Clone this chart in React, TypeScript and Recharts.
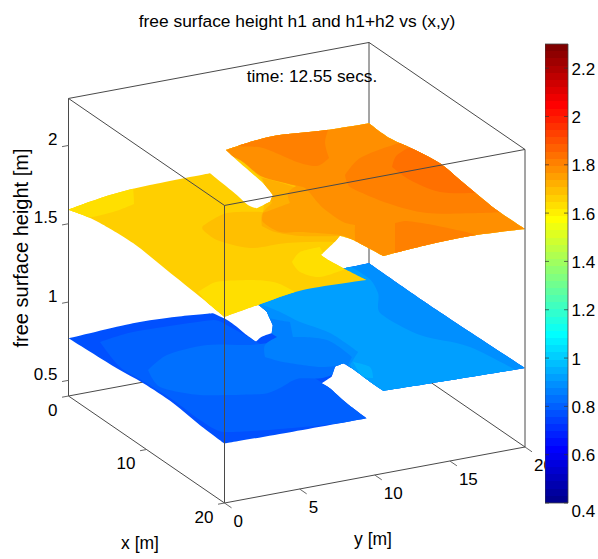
import React from 'react';
import { BarChart, Bar, Scatter, ScatterChart, XAxis, YAxis } from 'recharts';

type P3 = number[];

// outline of the h1+h2 surface, x, y, height
const upperOutline: P3[] = [
  [0, 0, 1.59], [0, 2.76, 1.634], [0, 5.42, 1.65], [0, 9.42, 1.654],
  [3.25, 9.26, 1.65], [5.61, 9.03, 1.65], [6.34, 9.24, 1.65], [6.89, 9.84, 1.7],
  [7.82, 9.55, 1.78], [5.78, 9.94, 1.78], [2.21, 10.27, 1.78], [0, 10.48, 1.784],
  [0, 13.41, 1.816], [0, 17.18, 1.791], [0, 20, 1.784],
  [2.69, 20, 1.78], [6.12, 20, 1.818], [9.1, 20, 1.839], [11.67, 20, 1.82],
  [13.97, 20, 1.803], [16.37, 20, 1.789], [20, 20, 1.792],
  [20, 16.34, 1.813], [20, 13.46, 1.807], [20, 10.57, 1.788],
  [16.63, 10.32, 1.78], [15.64, 9.95, 1.78], [14.27, 10.22, 1.68], [15.65, 8.68, 1.68],
  [16.59, 8.68, 1.68], [18.56, 8.88, 1.68], [20, 9.46, 1.655],
  [20, 5.22, 1.667], [20, 2.23, 1.625], [20, 0, 1.588],
  [16.86, 0, 1.61], [12.59, 0, 1.635], [8.27, 0, 1.659], [4.04, 0, 1.643], [1.86, 0, 1.619],
];

// outline of the h1 surface
const lowerOutline: P3[] = [
  [0, 0, 0.768], [0, 4.29, 0.788], [0, 7.2, 0.777], [0, 9.62, 0.756],
  [2.01, 9.7, 0.77], [4.43, 9.56, 0.77], [5.66, 9.54, 0.77], [6.25, 9.62, 0.82],
  [6.48, 10.16, 0.84], [5.98, 10.49, 0.87], [3.86, 11.19, 0.87], [2.64, 11.26, 0.87],
  [0, 11, 0.87], [0, 18.4, 0.887], [0, 20, 0.89],
  [8.68, 20, 0.888], [20, 20, 0.904], [20, 13.75, 0.919], [20, 10.57, 0.928],
  [18.12, 10.66, 0.92], [15.84, 10.73, 0.92], [14.69, 10.67, 0.92],
  [13.12, 10.93, 0.84], [14.5, 9.99, 0.84], [15.2, 8.96, 0.84],
  [15.23, 9.5, 0.8], [17.9, 9.23, 0.8], [20, 9.46, 0.772],
  [20, 4.56, 0.774], [20, 0, 0.78], [16.86, 0, 0.79], [13.44, 0, 0.813], [9.59, 0, 0.809], [6.18, 0, 0.788],
];

// constant height bands, [x, y]; the outline clips them
const upper1662 = 1.662;
const upperBands: { h: number; pts: number[][] }[] = [
  { h: 1.602, pts: [[0.09, -0.61], [-0.56, 1.72], [1.78, 0.11]] },
  { h: 1.632, pts: [[1.08, -1.12], [-0.89, 4.76], [1.93, 3.36], [2.53, 1.65], [2.59, -0.38]] },
  { h: 1.632, pts: [[16.61, -0.01], [15.7, 1.47], [15.71, 2.19], [16.36, 3.79], [17.46, 4.82], [19.27, 5.07], [21.01, 1.97], [21.74, -0.93]] },
  { h: 1.632, pts: [[14.78, 7.2], [13.53, 8.39], [13.34, 9.81], [14.65, 9.47], [17.2, 9.68], [17.75, 7.52], [16.47, 6.86]] },
  { h: 1.692, pts: [[8.43, 4.57], [7.18, 6.82], [8.02, 8.78], [3.29, 11.17], [-3.88, 11.77], [-5.24, 23.45], [13.84, 24.2], [22.66, 19.62], [19.75, 10.48], [15.85, 10.18], [14.34, 10.16], [13.23, 7.67], [12.95, 5.36], [10.87, 4.24], [9.02, 4.27]] },
  { h: 1.721, pts: [[10.72, 7.31], [8.96, 8.23], [7.62, 9.59], [3.67, 10.98], [6.47, 12.05], [10.7, 11.19], [14.47, 10.89], [13.24, 8.54], [11.96, 7.53]] },
  { h: 1.751, pts: [[10.85, 7.31], [9.53, 8.0], [8.8, 10.17], [7.28, 10.83], [6.47, 11.79], [4.07, 10.77], [3.54, 11.91], [7.71, 12.74], [14.23, 12.68], [17.17, 11.16], [15.97, 10.65], [14.87, 10.35], [13.34, 8.48], [12.79, 7.44]] },
  { h: 1.781, pts: [[1.8, 10.48], [4.93, 10.39], [7.5, 11.72], [8.57, 11.62], [11.13, 11.16], [13.74, 11.14], [14.51, 11.54], [16.12, 10.7], [18.56, 9.64], [22.35, 10.46], [21.78, 20.08], [14.43, 23.89], [-3.18, 22.39], [-3.62, 12.63], [-0.35, 9.93]] },
  { h: 1.81, pts: [[0.18, 11.12], [1.33, 12.26], [4.32, 12.97], [5.45, 13.71], [4.61, 14.95], [2.15, 15.96], [-0.22, 17.52], [-2.51, 12.06]] },
  { h: 1.81, pts: [[7.54, 14.49], [5.46, 16.57], [4.45, 19.29], [4.45, 21.08], [7.34, 21.25], [13.58, 20.67], [17.37, 20.04], [16.83, 18.65], [15.38, 15.88], [12.81, 14.55], [9.44, 13.83]] },
  { h: 1.81, pts: [[15.97, 13.44], [16.0, 14.22], [17.3, 15.28], [19.49, 16.6], [20.93, 16.86], [22.14, 10.24]] },
  { h: 1.84, pts: [[8.35, 17.2], [6.72, 18.38], [5.88, 20.34], [8.91, 20.77], [15.15, 20.19], [14.5, 19.66], [13.34, 17.8], [10.75, 17.15]] },
];

const lower771 = 0.771;
const lowerBands: { h: number; pts: number[][] }[] = [
  { h: 0.8, pts: [[2.13, 0.99], [1.56, 3.48], [1.99, 8.59], [3.68, 8.97], [7.01, 9.24], [15.19, 9.52], [20.99, 9.17], [20.05, 4.53], [18.75, 0.61], [16.33, 0.27], [12.65, 0.39], [9.04, 0.27], [6.35, 0.13]] },
  { h: 0.83, pts: [[8.25, 1.01], [6.56, 3.15], [6.19, 6.0], [7.37, 8.26], [8.0, 11.25], [10.57, 12.58], [13.64, 11.32], [14.19, 9.51], [13.65, 8.12], [14.51, 6.54], [14.93, 5.2], [13.35, 1.82], [11.08, 0.34]] },
  { h: 0.86, pts: [[1.07, 12.06], [3.98, 10.81], [6.35, 9.98], [7.62, 9.92], [8.47, 8.68], [10.23, 7.77], [11.46, 8.33], [13.21, 9.88], [13.52, 11.19], [18.15, 9.32], [20.87, 19.88], [17.93, 21.41], [-1.91, 20.99], [-0.13, 15.47]] },
  { h: 0.89, pts: [[1.68, 11.54], [4.67, 10.46], [6.46, 11.39], [8.75, 10.4], [10.12, 11.95], [13.31, 11.96], [14.37, 11.14], [20.09, 10.64], [21.56, 19.52], [18.62, 21.05], [-1.22, 20.64], [-0.17, 15.5]] },
  { h: 0.92, pts: [[3.49, 10.8], [5.41, 11.27], [7.43, 11.55], [9.87, 12.28], [13.43, 12.3], [15.12, 10.89], [20.78, 10.28], [21.96, 19.32], [15.76, 18.54], [12.63, 16.84], [8.3, 16.43], [5.3, 17.85], [2.65, 18.49], [-0.57, 17.7]] },
  { h: 0.95, pts: [[15.45, 10.92], [16.65, 11.42], [18.35, 10.74], [17.76, 10.32]] },
];

const xTicks = [0, 10, 20];
const yTicks = [0, 5, 10, 15, 20];
const zTicks = [0.5, 1, 1.5, 2];
const colorTicks = [0.4, 0.6, 0.8, 1, 1.2, 1.4, 1.6, 1.8, 2, 2.2];
const zMin = 0.4;
const zMax = 2.3;

const project = ([x, y, z]: P3) => ({
  sx: 68.5 + 7.8 * x + 15.025 * y,
  sy: 396 + 5.35 * x - 2.8 * y - (z - zMin) * 156.6,
});

// matlab jet, 64 steps
const jetAt = (n: number) => {
  const r = n <= 24 ? 0 : n <= 40 ? (n - 24) / 16 : n <= 56 ? 1 : 1 - (n - 56) / 16;
  const g = n <= 8 ? 0 : n <= 24 ? (n - 8) / 16 : n <= 40 ? 1 : n <= 56 ? (56 - n) / 16 : 0;
  const b = n <= 8 ? 0.5 + n / 16 : n <= 24 ? 1 : n <= 40 ? (40 - n) / 16 : 0;
  return `rgb(${Math.round(r * 255)},${Math.round(g * 255)},${Math.round(b * 255)})`;
};
const jet = (h: number) => jetAt(Math.min(64, Math.floor(((h - zMin) / (zMax - zMin)) * 64) + 1));
const jetSteps = Array.from({ length: 64 }, (_, i) => i + 1);

const noMark = () => <g />;

// closed smooth path, corners sharper than maxTurn stay sharp
const smoothPath = (pts: any[], maxTurn: number) => {
  const n = pts.length;
  const tangents = pts.map((p, i) => {
    const prev = pts[(i + n - 1) % n];
    const next = pts[(i + 1) % n];
    const a1 = Math.atan2(p.y - prev.y, p.x - prev.x);
    const a2 = Math.atan2(next.y - p.y, next.x - p.x);
    let turn = Math.abs(a2 - a1);
    if (turn > Math.PI) turn = 2 * Math.PI - turn;
    if (turn > maxTurn) return { x: 0, y: 0 };
    const dx = next.x - prev.x;
    const dy = next.y - prev.y;
    const len = Math.hypot(dx, dy) || 1;
    const reach = Math.min(Math.hypot(p.x - prev.x, p.y - prev.y), Math.hypot(next.x - p.x, next.y - p.y)) / 3;
    return { x: (dx / len) * reach, y: (dy / len) * reach };
  });
  let d = `M${pts[0].x},${pts[0].y}`;
  pts.forEach((p, i) => {
    const j = (i + 1) % n;
    const q = pts[j];
    d += `C${p.x + tangents[i].x},${p.y + tangents[i].y} ${q.x - tangents[j].x},${q.y - tangents[j].y} ${q.x},${q.y}`;
  });
  return d + 'Z';
};

const patch = (key: string, pts: P3[], fill: string, clipId: string, isOutline: boolean) => (
  <Scatter
    key={key}
    data={pts.map(project)}
    shape={noMark}
    isAnimationActive={false}
    line={(p: any) => {
      const d = smoothPath(p.points, isOutline ? 0.42 : 1.1);
      return isOutline ? (
        <g>
          <clipPath id={clipId}>
            <path d={d} />
          </clipPath>
          <path d={d} fill={fill} />
        </g>
      ) : (
        <path d={d} fill={fill} clipPath={`url(#${clipId})`} />
      );
    }}
  />
);

const edge = (key: string, a: P3, b: P3, color = '#4a4a4a', width = 1) => (
  <Scatter
    key={key}
    data={[project(a), project(b)]}
    shape={noMark}
    isAnimationActive={false}
    line={{ stroke: color, strokeWidth: width }}
  />
);

const TextMark = (props: any) => {
  const { cx, cy, payload } = props;
  return (
    <text
      x={cx + (payload.dx || 0)}
      y={cy + (payload.dy || 0)}
      textAnchor={payload.anchor || 'middle'}
      dominantBaseline="central"
      fontFamily="'Liberation Sans', Arial, sans-serif"
      fontSize={payload.size || 17}
      fill="#000"
      transform={payload.rotate ? `rotate(${payload.rotate} ${cx} ${cy})` : undefined}
    >
      {payload.text}
    </text>
  );
};

const textSeries = (key: string, data: any[]) => (
  <Scatter key={key} data={data} shape={TextMark} isAnimationActive={false} />
);

const xTickText = xTicks.map((t) => ({ ...project([t, 0, zMin]), text: String(t), anchor: 'end', dx: -11, dy: 14 }));
const yTickText = yTicks.map((t) => ({ ...project([20, t, zMin]), text: String(t), anchor: 'start', dx: 9, dy: 18 }));
const zTickText = zTicks.map((t) => ({ ...project([0, 0, t]), text: String(t), anchor: 'end', dx: -11, dy: -6 }));

const captions = [
  { sx: 297, sy: 21, size: 17.4, text: 'free surface height h1 and h1+h2 vs (x,y)' },
  { sx: 312, sy: 76, size: 17.3, text: 'time: 12.55 secs.' },
  { sx: 140, sy: 543, size: 17.5, text: 'x [m]' },
  { sx: 373, sy: 539, size: 17.5, text: 'y [m]' },
  { sx: 21, sy: 248, size: 20, text: 'free surface height [m]', rotate: -90 },
];

const barData = [{ name: 'h', range: [zMin, zMax] }];

const ColorTick = (props: any) => {
  const { x, y, payload } = props;
  const low = payload.value === 0.4;
  const barRight = x - 8;
  return (
    <g>
      <line x1={barRight - 23} x2={barRight - 19} y1={y} y2={y} stroke="#333" strokeWidth={0.7} />
      <line x1={barRight - 4} x2={barRight} y1={y} y2={y} stroke="#333" strokeWidth={0.7} />
      <text
        x={barRight + 3.5}
        y={y + (low ? 8 : 1)}
        dominantBaseline="central"
        fontFamily="'Liberation Sans', Arial, sans-serif"
        fontSize={17}
        fill="#000"
      >
        {payload.value}
      </text>
    </g>
  );
};

const corner = {
  a: [0, 0], b: [20, 0], c: [20, 20], d: [0, 20],
};

const App: React.FC = () => {
  return (
    <div style={{ position: 'absolute', left: 0, top: 0, width: 598, height: 559, background: '#fff' }}>
      <ScatterChart width={598} height={559} margin={{ top: 0, right: 0, bottom: 0, left: 0 }}>
        <XAxis type="number" dataKey="sx" domain={[0, 598]} hide />
        <YAxis type="number" dataKey="sy" domain={[0, 559]} reversed hide />

        {/* box edges behind the surfaces */}
        {edge('b1', [...corner.a, zMin], [...corner.d, zMin])}
        {edge('b2', [...corner.d, zMin], [...corner.c, zMin])}
        {edge('b3', [...corner.d, zMin], [...corner.d, zMax])}
        {edge('b4', [...corner.a, zMax], [...corner.d, zMax])}
        {edge('b5', [...corner.d, zMax], [...corner.c, zMax])}

        {patch('lowerBase', lowerOutline, jet(lower771), 'lowerClip', true)}
        {lowerBands.map((b, i) => patch(`l${i}`, b.pts.map(([x, y]) => [x, y, b.h]), jet(b.h), 'lowerClip', false))}
        {patch('upperBase', upperOutline, jet(upper1662), 'upperClip', true)}
        {upperBands.map((b, i) => patch(`u${i}`, b.pts.map(([x, y]) => [x, y, b.h]), jet(b.h), 'upperClip', false))}

        {/* box edges in front */}
        {edge('f1', [...corner.a, zMin], [...corner.a, zMax])}
        {edge('f2', [...corner.a, zMin], [...corner.b, zMin])}
        {edge('f3', [...corner.b, zMin], [...corner.c, zMin])}
        {edge('f4', [...corner.b, zMin], [...corner.b, zMax])}
        {edge('f5', [...corner.c, zMin], [...corner.c, zMax])}
        {edge('f6', [...corner.a, zMax], [...corner.b, zMax])}
        {edge('f7', [...corner.b, zMax], [...corner.c, zMax])}

        {xTicks.map((t) => edge(`xt${t}`, [t, 0, zMin], [t, -0.43, zMin], '#666'))}
        {yTicks.map((t) => edge(`yt${t}`, [20, t, zMin], [20.9, t, zMin], '#666'))}
        {zTicks.map((t) => edge(`zt${t}`, [0, 0, t], [0, -0.43, t], '#666'))}

        {textSeries('xLabels', xTickText)}
        {textSeries('yLabels', yTickText)}
        {textSeries('zLabels', zTickText)}
        {textSeries('captions', captions)}
      </ScatterChart>

      <div style={{ position: 'absolute', left: 545, top: 24 }}>
        <BarChart
          width={53}
          height={499}
          data={barData}
          barCategoryGap={0}
          margin={{ top: 20, right: 0, bottom: 20, left: 0 }}
        >
          <defs>
            <linearGradient id="jetBar" x1="0" y1="1" x2="0" y2="0">
              {jetSteps.map((n) => (
                <React.Fragment key={n}>
                  <stop offset={(n - 1) / 64} stopColor={jetAt(n)} />
                  <stop offset={n / 64} stopColor={jetAt(n)} />
                </React.Fragment>
              ))}
            </linearGradient>
          </defs>
          <XAxis dataKey="name" hide />
          <YAxis
            orientation="right"
            width={30}
            type="number"
            domain={[zMin, zMax]}
            ticks={colorTicks}
            axisLine={false}
            tickLine={false}
            interval={0}
            tick={ColorTick}
          />
          <Bar dataKey="range" fill="url(#jetBar)" stroke="#444" strokeWidth={0.8} isAnimationActive={false} />
        </BarChart>
      </div>
    </div>
  );
};

export default App;
